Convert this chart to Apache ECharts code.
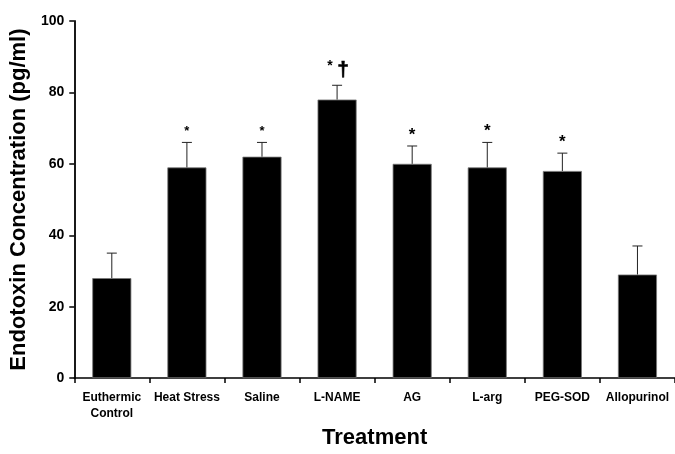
<!DOCTYPE html>
<html><head><meta charset="utf-8">
<script src="https://cdn.jsdelivr.net/npm/echarts@6/dist/echarts.min.js"></script>
<style>html,body{margin:0;padding:0;background:#fff;overflow:hidden}#c{width:675px;height:454px}</style>
</head><body><div id="c"></div>
<script>
const categories = ['Euthermic\nControl','Heat Stress','Saline','L-NAME','AG','L-arg','PEG-SOD','Allopurinol'];
const means = [28, 59, 62, 78, 60, 59, 58, 29];
const errorTops = [35, 66, 66, 82, 65, 66, 63, 37];
const marks = ['', '*', '*', '* †', '*', '*', '*', ''];
const yTicks = [0, 20, 40, 60, 80, 100];

const chart = echarts.init(document.getElementById('c'));
const font = 'Liberation Sans, Arial, Helvetica, sans-serif';
// small asterisks for the first two marked groups, larger ones for the rest (as in the original figure)
function markSize(i) { return (i === 1 || i === 2) ? 13 : 17; }

chart.setOption({
  animation: false,
  backgroundColor: '#fff',
  grid: {left: 73, top: 21, bottom: 65, right: -2, containLabel: false},
  xAxis: {
    type: 'category', data: categories,
    axisLine: {lineStyle: {color: '#000', width: 1.5}},
    axisTick: {show: true, length: 5, lineStyle: {color: '#000', width: 1.5}},
    axisLabel: {color: '#000', fontFamily: font, fontWeight: 'bold', fontSize: 12, margin: 12, lineHeight: 16, interval: 0},
    name: 'Treatment', nameLocation: 'middle', nameGap: 43,
    nameTextStyle: {color: '#000', fontFamily: font, fontWeight: 'bold', fontSize: 22}
  },
  yAxis: {
    type: 'value', min: yTicks[0], max: yTicks[yTicks.length-1], interval: 20,
    axisLine: {show: true, lineStyle: {color: '#000', width: 1.8}},
    axisTick: {show: true, length: 5, lineStyle: {color: '#000', width: 1.5}},
    splitLine: {show: false},
    axisLabel: {color: '#000', fontFamily: font, fontWeight: 'bold', fontSize: 14, margin: 10},
    name: 'Endotoxin Concentration (pg/ml)', nameLocation: 'middle', nameGap: 40, nameRotate: 90,
    nameTextStyle: {color: '#000', fontFamily: font, fontWeight: 'bold', fontSize: 22}
  },
  series: [
    {
      type: 'bar', data: means, barWidth: '52%',
      itemStyle: {color: '#000', borderColor: '#777', borderWidth: 0.8}
    },
    {
      type: 'custom',
      data: means.map((m, i) => [i, m, errorTops[i]]),
      renderItem: function (params, api) {
        const i = api.value(0);
        const base = api.coord([i, api.value(1)]);
        const top = api.coord([i, api.value(2)]);
        const cap = 5;
        const children = [
          {type: 'line', shape: {x1: base[0], y1: base[1], x2: top[0], y2: top[1]}, style: {stroke: '#222', lineWidth: 1}},
          {type: 'line', shape: {x1: top[0]-cap, y1: top[1], x2: top[0]+cap, y2: top[1]}, style: {stroke: '#222', lineWidth: 1}}
        ];
        const t = marks[i];
        if (t) {
          const parts = t.split(' ');
          if (parts.length > 1) {
            children.push({type: 'text', style: {
              text: parts[0], x: top[0] - 7, y: top[1] - 19,
              textAlign: 'center', textVerticalAlign: 'middle',
              font: 'bold 14px ' + font, fill: '#000'
            }});
            children.push({type: 'text', style: {
              text: parts[1], x: top[0] + 6, y: top[1] - 15,
              textAlign: 'center', textVerticalAlign: 'middle',
              font: 'bold 21px ' + font, fill: '#000', stroke: '#000', lineWidth: 0.6
            }});
          } else {
            const s = markSize(i);
            children.push({type: 'text', style: {
              text: t, x: top[0], y: top[1] - 11,
              textAlign: 'center', textVerticalAlign: 'middle',
              font: 'bold ' + s + 'px ' + font, fill: '#000'
            }});
          }
        }
        return {type: 'group', children: children};
      },
      z: 3
    }
  ]
});
</script>
</body></html>
